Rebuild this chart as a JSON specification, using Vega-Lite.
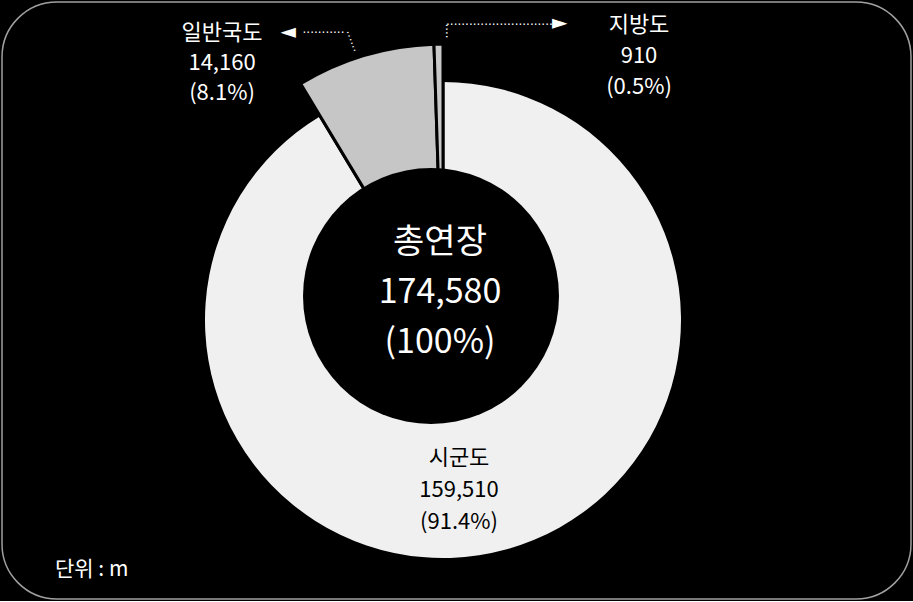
{
  "$schema": "https://vega.github.io/schema/vega-lite/v6.json",
  "width": 909,
  "height": 597,
  "padding": 2,
  "autosize": {"type": "none"},
  "background": "#000000",
  "view": {"stroke": "#a0a0a0", "strokeWidth": 1.5, "cornerRadius": 55, "fill": "#000000"},
  "config": {
    "view": {"stroke": "#a0a0a0", "strokeWidth": 1.5, "cornerRadius": 55, "fill": "#000000"},
    "text": {"font": "Noto Sans CJK KR"}
  },
  "data": {
    "values": [
      {"category": "시군도", "length": 159510},
      {"category": "일반국도", "length": 14160},
      {"category": "지방도", "length": 910}
    ]
  },
  "transform": [
    {"joinaggregate": [{"op": "sum", "field": "length", "as": "total"}]},
    {"calculate": "datum.category + '\\n' + format(datum.length, ',') + '\\n(' + format(datum.length / datum.total, '.1%') + ')'", "as": "label"},
    {"calculate": "'총연장\\n' + format(datum.total, ',') + '\\n(100%)'", "as": "centerLabel"}
  ],
  "resolve": {"scale": {"color": "independent"}},
  "layer": [
    {
      "mark": {"type": "arc", "innerRadius": 95, "radius": 238, "xOffset": -13.5, "yOffset": 19.5},
      "encoding": {
        "theta": {"field": "length", "type": "quantitative", "stack": true},
        "order": {"field": "category", "type": "ordinal", "sort": "ascending"},
        "color": {
          "field": "category", "type": "nominal", "legend": null,
          "scale": {"domain": ["시군도", "일반국도", "지방도"], "range": ["#f0f0f0", "#c6c6c6", "#c9c9c9"]}
        }
      }
    },
    {
      "mark": {"type": "arc", "innerRadius": 95, "radius": 276, "stroke": "#000000", "strokeWidth": 3, "xOffset": -13.5, "yOffset": 19.5},
      "encoding": {
        "theta": {"field": "length", "type": "quantitative", "stack": true},
        "order": {"field": "category", "type": "ordinal", "sort": "ascending"},
        "color": {
          "field": "category", "type": "nominal", "legend": null,
          "scale": {"domain": ["시군도", "일반국도", "지방도"], "range": ["transparent", "#c6c6c6", "#c9c9c9"]}
        }
      }
    },
    {
      "transform": [{"filter": "datum.category === '시군도'"}],
      "mark": {"type": "arc", "theta": 0, "theta2": 6.2832, "radius": 128, "fill": "#000000", "xOffset": -25.5, "yOffset": -4.5},
      "encoding": {}
    },
    {
      "transform": [{"filter": "datum.category === '시군도'"}],
      "mark": {"type": "text", "lineBreak": "\n", "fontSize": 34, "lineHeight": 50, "fill": "#ffffff", "align": "center", "baseline": "middle", "dx": -16.5, "dy": -57.5},
      "encoding": {"text": {"field": "centerLabel", "type": "nominal"}}
    },
    {
      "transform": [{"filter": "datum.category === '일반국도'"}],
      "mark": {"type": "text", "lineBreak": "\n", "fontSize": 22, "lineHeight": 30, "fill": "#ffffff", "align": "center", "baseline": "middle", "dx": -234.5, "dy": -268},
      "encoding": {"text": {"field": "label", "type": "nominal"}}
    },
    {
      "transform": [{"filter": "datum.category === '지방도'"}],
      "mark": {"type": "text", "lineBreak": "\n", "fontSize": 22, "lineHeight": 31, "fill": "#ffffff", "align": "center", "baseline": "middle", "dx": 182.5, "dy": -275.5},
      "encoding": {"text": {"field": "label", "type": "nominal"}}
    },
    {
      "transform": [{"filter": "datum.category === '시군도'"}],
      "mark": {"type": "text", "lineBreak": "\n", "fontSize": 22, "lineHeight": 32, "fill": "#000000", "align": "center", "baseline": "middle", "dx": 2.5, "dy": 157.5},
      "encoding": {"text": {"field": "label", "type": "nominal"}}
    },
    {
      "transform": [{"filter": "datum.category === '시군도'"}],
      "mark": {"type": "text", "fontSize": 21, "fill": "#ffffff", "align": "left", "baseline": "middle", "dx": -401.5, "dy": 269.5, "text": "단위  :  m"},
      "encoding": {}
    },
    {
      "transform": [{"filter": "datum.category === '일반국도'"}],
      "mark": {"type": "text", "font": "DejaVu Sans", "fontSize": 20, "fill": "#ffffff", "align": "left", "baseline": "middle", "dx": -176, "dy": -268.5, "text": "◄"},
      "encoding": {}
    },
    {
      "transform": [{"filter": "datum.category === '일반국도'"}],
      "mark": {"type": "text", "font": "DejaVu Sans", "fontSize": 12, "fill": "#ffffff", "align": "left", "baseline": "middle", "dx": -154, "dy": -267.5, "text": "···········"},
      "encoding": {}
    },
    {
      "transform": [{"filter": "datum.category === '일반국도'"}],
      "mark": {"type": "text", "font": "DejaVu Sans", "fontSize": 12, "fill": "#ffffff", "align": "center", "baseline": "middle", "angle": 69, "dx": -279.6, "dy": 5.7, "text": "······"},
      "encoding": {}
    },
    {
      "transform": [{"filter": "datum.category === '지방도'"}],
      "mark": {"type": "text", "font": "DejaVu Sans", "fontSize": 12, "fill": "#ffffff", "align": "center", "baseline": "middle", "angle": 90, "dx": -269.5, "dy": 11, "text": "····"},
      "encoding": {}
    },
    {
      "transform": [{"filter": "datum.category === '지방도'"}],
      "mark": {"type": "text", "font": "DejaVu Sans", "fontSize": 12, "fill": "#ffffff", "align": "left", "baseline": "middle", "dx": -10.5, "dy": -275.5, "text": "····························"},
      "encoding": {}
    },
    {
      "transform": [{"filter": "datum.category === '지방도'"}],
      "mark": {"type": "text", "font": "DejaVu Sans", "fontSize": 20, "fill": "#ffffff", "align": "left", "baseline": "middle", "dx": 95.5, "dy": -277.5, "text": "►"},
      "encoding": {}
    }
  ]
}
